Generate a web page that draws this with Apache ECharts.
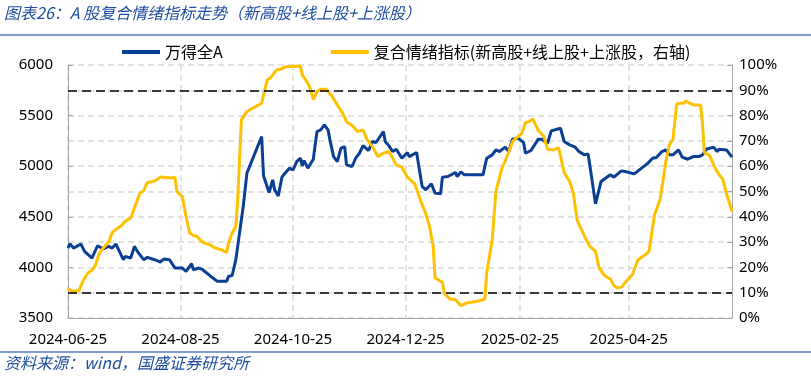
<!DOCTYPE html>
<html>
<head>
<meta charset="utf-8">
<script src="https://cdn.jsdelivr.net/npm/echarts@6/dist/echarts.min.js"></script>
<style>
  html, body { margin: 0; padding: 0; background: #fff; }
  #chart { width: 811px; height: 377px; }
</style>
</head>
<body>
<div id="chart"></div>
<script>
// 万得全A (left axis)
const indexDates = ['2024-06-25','2024-06-26','2024-06-28','2024-07-02','2024-07-04','2024-07-08','2024-07-11','2024-07-14','2024-07-17','2024-07-19','2024-07-21','2024-07-22','2024-07-25','2024-07-26','2024-07-29','2024-07-31','2024-08-02','2024-08-05','2024-08-07','2024-08-11','2024-08-14','2024-08-16','2024-08-19','2024-08-22','2024-08-26','2024-08-28','2024-08-31','2024-09-01','2024-09-04','2024-09-06','2024-09-10','2024-09-14','2024-09-19','2024-09-20','2024-09-22','2024-09-24','2024-09-25','2024-09-28','2024-09-30','2024-10-08','2024-10-09','2024-10-10','2024-10-12','2024-10-14','2024-10-15','2024-10-17','2024-10-19','2024-10-21','2024-10-23','2024-10-25','2024-10-27','2024-10-29','2024-10-30','2024-10-31','2024-11-02','2024-11-05','2024-11-06','2024-11-07','2024-11-09','2024-11-11','2024-11-13','2024-11-14','2024-11-16','2024-11-18','2024-11-20','2024-11-22','2024-11-23','2024-11-26','2024-11-28','2024-11-30','2024-12-02','2024-12-05','2024-12-07','2024-12-09','2024-12-13','2024-12-14','2024-12-16','2024-12-18','2024-12-20','2024-12-23','2024-12-26','2024-12-27','2024-12-31','2025-01-03','2025-01-05','2025-01-08','2025-01-10','2025-01-13','2025-01-14','2025-01-17','2025-01-21','2025-01-22','2025-01-24','2025-01-26','2025-02-05','2025-02-07','2025-02-10','2025-02-12','2025-02-14','2025-02-17','2025-02-19','2025-02-21','2025-02-24','2025-02-27','2025-02-28','2025-03-03','2025-03-07','2025-03-09','2025-03-12','2025-03-14','2025-03-19','2025-03-21','2025-03-24','2025-03-27','2025-03-29','2025-04-01','2025-04-03','2025-04-04','2025-04-07','2025-04-10','2025-04-15','2025-04-17','2025-04-21','2025-04-23','2025-04-28','2025-05-05','2025-05-08','2025-05-10','2025-05-13','2025-05-15','2025-05-17','2025-05-19','2025-05-22','2025-05-24','2025-05-27','2025-05-30','2025-06-02','2025-06-04','2025-06-06','2025-06-10','2025-06-12','2025-06-13','2025-06-17','2025-06-20'];
const indexValues = [4191,4234,4191,4231,4158,4092,4214,4184,4208,4191,4231,4217,4076,4109,4092,4208,4148,4076,4099,4076,4053,4082,4076,3994,3994,3961,4036,3977,3994,3977,3918,3862,3862,3911,3920,4076,4208,4602,4931,5293,4905,4892,4740,4865,4767,4707,4892,4938,4980,4964,5046,5079,5003,5056,4980,5069,5211,5342,5359,5408,5359,5260,5095,5046,5178,5194,5013,4997,5079,5128,5204,5155,5244,5234,5342,5244,5201,5145,5168,5079,5135,5095,5135,4800,4767,4826,4734,4727,4892,4898,4938,4898,4944,4915,4915,5079,5112,5161,5145,5188,5145,5267,5277,5234,5128,5155,5267,5267,5227,5349,5375,5244,5211,5188,5145,5112,5122,5000,4628,4849,4915,4892,4954,4948,4924,5023,5079,5086,5145,5161,5112,5112,5161,5089,5069,5095,5095,5112,5168,5188,5145,5168,5161,5089];

// 复合情绪指标 (right axis, %)
const moodDates = ['2024-06-25','2024-06-28','2024-07-01','2024-07-03','2024-07-06','2024-07-08','2024-07-10','2024-07-12','2024-07-14','2024-07-17','2024-07-19','2024-07-22','2024-07-24','2024-07-26','2024-07-29','2024-08-01','2024-08-03','2024-08-05','2024-08-07','2024-08-10','2024-08-12','2024-08-14','2024-08-15','2024-08-17','2024-08-20','2024-08-22','2024-08-23','2024-08-26','2024-08-28','2024-08-30','2024-09-01','2024-09-03','2024-09-06','2024-09-10','2024-09-13','2024-09-16','2024-09-19','2024-09-20','2024-09-22','2024-09-24','2024-09-25','2024-09-27','2024-09-30','2024-10-08','2024-10-11','2024-10-13','2024-10-16','2024-10-18','2024-10-21','2024-10-29','2024-10-30','2024-11-02','2024-11-03','2024-11-05','2024-11-07','2024-11-09','2024-11-12','2024-11-15','2024-11-18','2024-11-21','2024-11-23','2024-11-26','2024-11-29','2024-12-02','2024-12-04','2024-12-07','2024-12-10','2024-12-13','2024-12-16','2024-12-18','2024-12-20','2024-12-23','2024-12-26','2024-12-30','2025-01-02','2025-01-05','2025-01-07','2025-01-09','2025-01-10','2025-01-14','2025-01-15','2025-01-18','2025-01-21','2025-01-24','2025-01-27','2025-02-02','2025-02-06','2025-02-07','2025-02-10','2025-02-12','2025-02-15','2025-02-18','2025-02-21','2025-02-23','2025-02-26','2025-02-28','2025-03-02','2025-03-04','2025-03-07','2025-03-10','2025-03-12','2025-03-15','2025-03-18','2025-03-19','2025-03-21','2025-03-24','2025-03-26','2025-03-28','2025-03-30','2025-04-02','2025-04-04','2025-04-07','2025-04-09','2025-04-12','2025-04-15','2025-04-17','2025-04-19','2025-04-21','2025-04-24','2025-04-27','2025-04-30','2025-05-04','2025-05-06','2025-05-09','2025-05-12','2025-05-15','2025-05-17','2025-05-19','2025-05-21','2025-05-23','2025-05-25','2025-05-26','2025-05-28','2025-05-30','2025-06-03','2025-06-04','2025-06-05','2025-06-08','2025-06-10','2025-06-13','2025-06-15','2025-06-17','2025-06-20'];
const moodValues = [11.4,10.5,10.9,14.5,18.0,18.8,21.1,25.7,27.6,29.9,33.8,35.5,36.6,38.2,39.5,45.4,49.3,50.3,53.6,53.9,54.6,55.7,55.0,55.5,55.3,55.7,50.0,48.0,40.1,33.6,32.6,32.2,29.9,28.9,27.6,27.0,25.9,29.6,33.6,36.2,46.7,78.3,81.6,84.9,94.1,95.1,98.0,98.3,99.3,99.6,96.1,92.8,91.4,86.4,89.5,90.4,90.4,87.8,84.2,80.9,77.6,76.1,73.7,74.3,70.7,67.8,63.8,65.1,65.8,63.2,60.5,59.6,55.7,53.0,46.7,41.2,36.2,28.3,15.8,14.1,9.9,7.5,7.2,4.9,5.9,6.6,7.5,17.8,30.9,50.0,58.6,63.8,69.7,71.1,73.0,77.2,77.6,78.7,74.1,71.7,66.7,66.4,67.3,64.0,57.5,53.9,49.3,38.8,35.5,30.9,28.3,26.3,19.7,16.7,15.4,12.8,11.8,12.2,14.7,17.1,23.0,25.0,26.3,40.8,46.7,61.2,68.4,70.7,84.6,84.9,84.9,85.8,84.9,84.2,84.2,77.0,65.4,64.1,60.5,56.6,54.9,49.3,42.1];

const tickDates = ['2024-06-25', '2024-08-25', '2024-10-25', '2024-12-25', '2025-02-25', '2025-04-25'];
const guideLevels = [10, 90];

// every calendar day on the axis (date axis like the original)
const allDays = [];
for (let t = Date.UTC(2024, 5, 25); t <= Date.UTC(2025, 5, 20); t += 86400000) {
  allDays.push(new Date(t).toISOString().slice(0, 10));
}

const toPairs = (dates, vals) => dates.map((d, i) => [allDays.indexOf(d), vals[i]]);
const isTick = (idx, val) => tickDates.includes(val);

const numFont = '"Noto Sans", sans-serif';
const cjkFont = '"Noto Sans CJK SC", sans-serif';
const gridGrey = '#d9d9d9';
const axisGrey = '#a6a6a6';

const chart = echarts.init(document.getElementById('chart'));

chart.setOption({
  animation: false,
  backgroundColor: '#fff',
  grid: { left: 68, right: 79, top: 65, bottom: 59 },
  legend: {
    left: 117,
    top: 39,
    itemGap: 108,
    itemWidth: 38,
    itemHeight: 4,
    icon: 'rect',
    textStyle: { fontFamily: cjkFont, fontSize: 16, color: '#000' },
    data: ['万得全A', '复合情绪指标(新高股+线上股+上涨股，右轴)']
  },
  xAxis: {
    type: 'category',
    data: allDays,
    boundaryGap: false,
    axisLine: { lineStyle: { color: axisGrey } },
    axisTick: { show: false },
    axisLabel: {
      interval: isTick,
      margin: 14,
      fontFamily: numFont,
      fontSize: 15,
      color: '#000'
    },
    splitLine: {
      show: true,
      interval: isTick,
      lineStyle: { color: gridGrey, type: [6, 4], width: 1.5 }
    }
  },
  yAxis: [
    {
      type: 'value',
      min: 3500,
      max: 6000,
      interval: 500,
      axisLine: { show: true, lineStyle: { color: axisGrey } },
      axisTick: { show: true, inside: true, length: 5, lineStyle: { color: axisGrey } },
      axisLabel: { formatter: v => String(v), fontFamily: numFont, fontSize: 15, color: '#000', margin: 15 },
      splitLine: { show: false }
    },
    {
      type: 'value',
      min: 0,
      max: 100,
      interval: 10,
      position: 'right',
      axisLine: { show: true, lineStyle: { color: axisGrey } },
      axisTick: { show: true, inside: true, length: 5, lineStyle: { color: axisGrey } },
      axisLabel: { formatter: '{value}%', fontFamily: numFont, fontSize: 15, color: '#000', margin: 7 },
      splitLine: { show: true, lineStyle: { color: gridGrey, type: [6, 4], width: 1.5 } }
    }
  ],
  series: [
    {
      name: '万得全A',
      type: 'line',
      yAxisIndex: 0,
      data: toPairs(indexDates, indexValues),
      showSymbol: false,
      color: '#0a3f94',
      lineStyle: { width: 3, color: '#0a3f94' },
      z: 3
    },
    {
      name: '复合情绪指标(新高股+线上股+上涨股，右轴)',
      type: 'line',
      yAxisIndex: 1,
      data: toPairs(moodDates, moodValues),
      showSymbol: false,
      color: '#ffc000',
      lineStyle: { width: 3, color: '#ffc000' },
      z: 4,
      markLine: {
        silent: true,
        symbol: 'none',
        label: { show: false },
        lineStyle: { color: '#000', type: [9, 5], width: 1.5 },
        data: guideLevels.map(v => ({ yAxis: v }))
      }
    }
  ],
  graphic: [
    {
      type: 'text', left: 4, top: 5,
      style: { text: '图表26：A 股复合情绪指标走势（新高股+线上股+上涨股）', font: 'italic 16px "Noto Sans CJK SC"', fill: '#1f4ea0' }
    },
    { type: 'line', shape: { x1: 0, y1: 35, x2: 811, y2: 35 }, style: { stroke: '#7f9fd0', lineWidth: 2 } },
    { type: 'line', shape: { x1: 0, y1: 352, x2: 811, y2: 352 }, style: { stroke: '#7f9fd0', lineWidth: 2 } },
    {
      type: 'text', left: 4, top: 355,
      style: { text: '资料来源：wind，国盛证券研究所', font: 'italic 16px "Noto Sans CJK SC"', fill: '#1f4ea0' }
    }
  ]
});
</script>
</body>
</html>
